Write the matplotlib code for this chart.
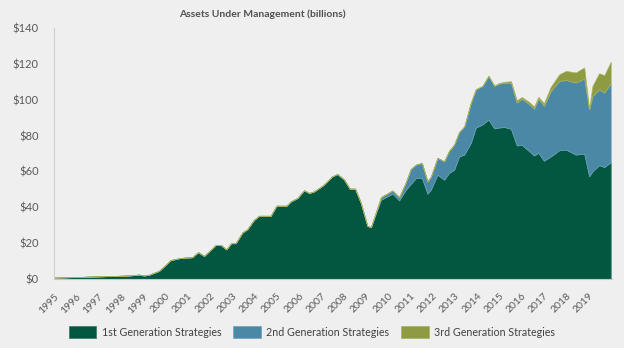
import matplotlib
matplotlib.use("Agg")
import matplotlib.pyplot as plt
import numpy as np

# ---- data (billions USD) ----
dates = [1995.00, 1996.12, 1997.25, 1998.37, 1998.82, 1999.04, 1999.27, 1999.72,
         2000.24, 2000.69, 2001.21, 2001.47, 2001.74, 2002.26, 2002.49, 2002.74,
         2002.96, 2003.16, 2003.46, 2003.68, 2003.98, 2004.21, 2004.73, 2004.99,
         2005.44, 2005.63, 2005.93, 2006.23, 2006.46, 2006.68, 2007.05, 2007.50,
         2007.73, 2008.03, 2008.28, 2008.52, 2008.78, 2009.07, 2009.23, 2009.68,
         2010.20, 2010.50, 2010.80, 2011.02, 2011.25, 2011.52, 2011.77, 2011.92,
         2012.22, 2012.52, 2012.74, 2012.97, 2013.19, 2013.42, 2013.72, 2013.94,
         2014.24, 2014.51, 2014.77, 2014.99, 2015.21, 2015.52, 2015.78, 2016.01,
         2016.34, 2016.56, 2016.75, 2017.00, 2017.31, 2017.69, 2017.99, 2018.43,
         2018.81, 2019.03, 2019.18, 2019.48, 2019.71, 2020.00]

first_gen = [0.8, 1.2, 1.6, 2.0, 2.5, 2.0, 2.4, 4.6,
             10.6, 11.8, 12.2, 15.0, 12.9, 19.0, 19.0, 16.6,
             20.0, 20.0, 26.0, 27.8, 33.0, 35.3, 35.3, 40.9,
             40.9, 43.3, 45.2, 49.5, 48.0, 48.9, 52.0, 57.3,
             58.6, 55.4, 50.4, 50.4, 42.4, 29.7, 28.9, 44.2,
             47.6, 43.9, 49.8, 53.0, 56.4, 56.4, 47.6, 49.8,
             58.2, 55.4, 59.2, 61.0, 68.3, 69.4, 76.0, 84.4,
             86.2, 89.0, 84.0, 84.5, 84.8, 83.8, 74.5, 74.8,
             71.3, 68.9, 70.4, 66.0, 68.4, 71.9, 72.2, 69.4,
             70.0, 57.3, 60.0, 63.5, 62.5, 65.1]

# cumulative top of 1st + 2nd generation
top_12 = [0.8, 1.2, 1.6, 2.0, 2.5, 2.0, 2.4, 4.6,
          10.6, 11.8, 12.2, 15.0, 12.9, 19.0, 19.0, 16.6,
          20.0, 20.0, 26.0, 27.8, 33.0, 35.3, 35.3, 40.9,
          40.9, 43.3, 45.2, 49.5, 48.0, 48.9, 52.0, 57.3,
          58.6, 55.4, 50.4, 50.4, 42.4, 29.7, 28.9, 45.7,
          49.4, 45.7, 54.0, 61.4, 63.8, 64.8, 54.5, 57.0,
          67.6, 65.7, 71.5, 75.0, 82.0, 85.0, 98.4, 105.8,
          107.7, 113.3, 107.7, 109.0, 109.4, 109.6, 98.4, 100.6,
          97.5, 95.0, 100.6, 96.6, 104.9, 110.5, 111.0, 109.6,
          111.8, 94.6, 102.1, 105.8, 104.0, 109.2]

# cumulative top of all three
top_123 = [0.8, 1.2, 1.6, 2.0, 2.5, 2.0, 2.4, 4.6,
           10.6, 11.8, 12.2, 15.0, 12.9, 19.0, 19.0, 16.6,
           20.0, 20.0, 26.0, 27.8, 33.0, 35.3, 35.3, 40.9,
           40.9, 43.3, 45.2, 49.5, 48.0, 48.9, 52.0, 57.3,
           58.6, 55.4, 50.4, 50.4, 42.4, 29.7, 28.9, 45.7,
           49.4, 45.7, 54.0, 61.4, 63.8, 64.8, 54.5, 57.0,
           67.6, 65.7, 71.5, 75.0, 82.0, 85.0, 98.4, 105.8,
           107.7, 113.3, 108.0, 109.3, 110.0, 110.3, 99.7, 101.5,
           98.7, 96.2, 101.6, 98.0, 107.3, 114.2, 116.1, 115.2,
           118.0, 95.0, 107.7, 114.8, 113.7, 121.1]

second_gen = list(np.array(top_12) - np.array(first_gen))
third_gen = list(np.array(top_123) - np.array(top_12))

series_names = ["1st Generation Strategies", "2nd Generation Strategies",
                "3rd Generation Strategies"]
colors = ["#035741", "#4b88a6", "#8e9b42"]
edge_colors = ["#2e7a60", "#6fa3bd", "#a8b25e"]

year_ticks = list(range(1995, 2020))
y_ticks = [0, 20, 40, 60, 80, 100, 120, 140]

# ---- figure ----
bg = "#efefef"
plt.rcParams["font.family"] = ["Lato", "DejaVu Sans"]
fig = plt.figure(figsize=(6.24, 3.48), dpi=100, facecolor=bg)
ax = fig.add_axes([0.0865, 0.198, 0.894, 0.7215])
ax.set_facecolor(bg)

polys = ax.stackplot(dates, first_gen, second_gen, third_gen,
                     colors=colors, labels=series_names, linewidth=0)
for p, ec in zip(polys, edge_colors):
    p.set_edgecolor(ec)
    p.set_linewidth(0.5)

ax.set_xlim(1995, 2020.05)
ax.set_ylim(0, 140)

ax.set_yticks(y_ticks)
ax.set_yticklabels([f"${v}" for v in y_ticks])
ax.set_xticks(year_ticks)
ax.set_xticklabels([str(y) for y in year_ticks], rotation=45, ha="right",
                   rotation_mode="anchor")

ax.tick_params(axis="y", length=0, pad=11, labelsize=8, colors="#595959")
ax.tick_params(axis="x", length=0, pad=9, labelsize=7.5, colors="#595959")

for s in ["top", "right"]:
    ax.spines[s].set_visible(False)
ax.spines["left"].set_color("#d0d0d0")
ax.spines["left"].set_linewidth(0.8)
ax.spines["bottom"].set_color("#c8c8c8")
ax.spines["bottom"].set_linewidth(0.8)

fig.text(0.42, 0.958, "Assets Under Management (billions)", ha="center",
         va="center", fontsize=7.5, fontweight="bold", color="#505050")

handles, labels = ax.get_legend_handles_labels()
leg = fig.legend(handles, labels, loc="center", bbox_to_anchor=(0.5, 0.046),
                 ncol=3, frameon=False, fontsize=7.7, handlelength=2.6,
                 handleheight=1.25, handletextpad=0.5, columnspacing=1.1,
                 labelcolor="#404040")

fig.savefig("out.png", dpi=100, facecolor=bg)
